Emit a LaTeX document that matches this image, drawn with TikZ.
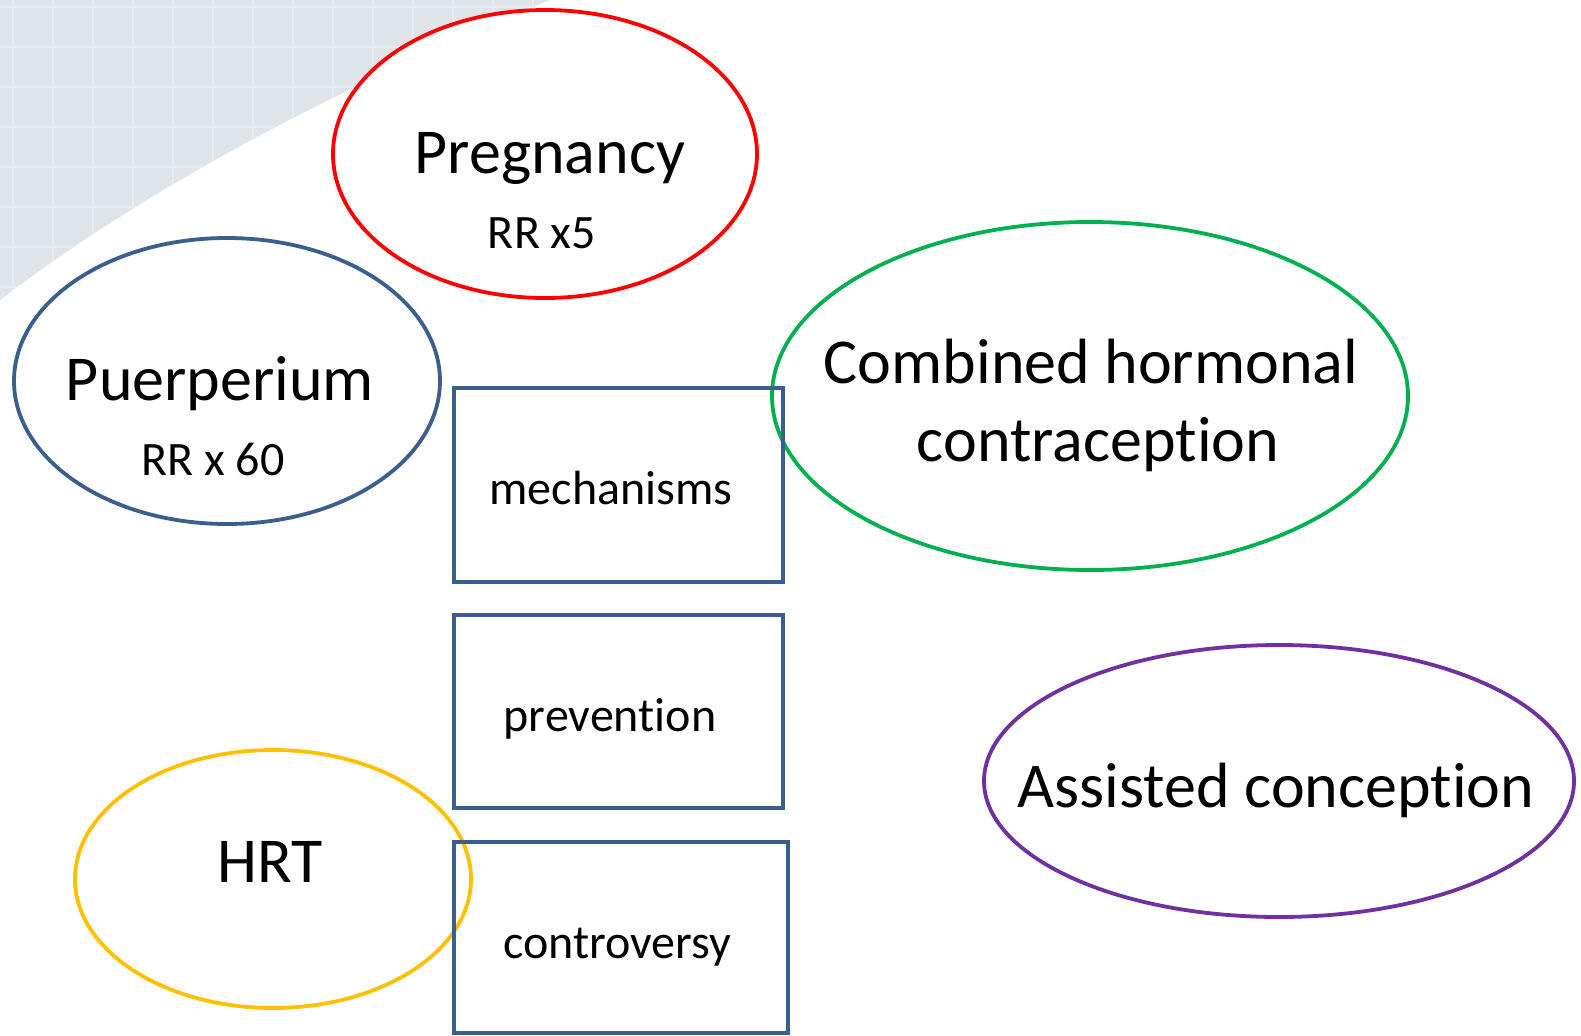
\documentclass[tikz,border=0pt]{standalone}
\usepackage{fontspec}
\setmainfont{Carlito}[Ligatures={NoCommon,NoRare}]
\usetikzlibrary{shapes.geometric}
\definecolor{bgray}{HTML}{DEE4E8}
\definecolor{gline}{HTML}{E7ECEF}
\definecolor{cred}{HTML}{FF0000}
\definecolor{cblue}{HTML}{3A5F8E}
\definecolor{cgreen}{HTML}{00B050}
\definecolor{cpurple}{HTML}{7030A0}
\definecolor{cyellow}{HTML}{FFC000}
\newcommand{\nolig}{\kern0pt }
\tikzset{
  oval/.style={ellipse, draw, fill=white, line width=1.9pt, inner sep=0pt},
  topicbox/.style={rectangle, draw=cblue, line width=2pt, inner sep=0pt},
  bigtxt/.style={anchor=base, font=\fontsize{32}{38}\selectfont, inner sep=0pt},
  smalltxt/.style={anchor=base, font=\fontsize{24}{29}\selectfont, inner sep=0pt}
}
\begin{document}
\begin{tikzpicture}[x=0.5pt,y=-0.5pt]
\useasboundingbox (0,0) rectangle (1581,1035);
\fill[white] (0,0) rectangle (1581,1035);
% background corner
\begin{scope}
\clip (0,0) -- (0,300) .. controls (170,170) and (380,70) .. (550,0) -- cycle;
\fill[bgray] (0,0) rectangle (560,310);
\foreach \k in {13,53,...,573} {\draw[gline, line width=1.2pt] (\k,0) -- (\k,310);}
\foreach \k in {7,47,...,327} {\draw[gline, line width=1.2pt] (0,\k) -- (560,\k);}
\end{scope}
% ellipses
\node[oval, draw=cred, minimum width=212pt, minimum height=144pt] (preg) at (545,154) {};
\node[oval, draw=cblue, minimum width=213pt, minimum height=143pt] (puer) at (227,381) {};
\node[oval, draw=cgreen, minimum width=318pt, minimum height=174pt] (chc) at (1090,396) {};
\node[oval, draw=cpurple, minimum width=295pt, minimum height=136pt] (ac) at (1279,781) {};
\node[oval, draw=cyellow, minimum width=198pt, minimum height=129pt] (hrt) at (273,879) {};
% boxes
\node[topicbox, minimum width=164.5pt, minimum height=97pt] (mech) at (618.5,485) {};
\node[topicbox, minimum width=164.5pt, minimum height=96.5pt] (prev) at (618.5,711.5) {};
\node[topicbox, minimum width=167pt, minimum height=95.5pt] (contr) at (621,937.5) {};
% texts
\node[bigtxt] (tpreg) at (550,173) {Pregnancy};
\node[smalltxt] (tpregrr) at (542,248) {RR x5};
\node[bigtxt] (tpuer) at (220,400) {Puerperium};
\node[smalltxt] (tpuerrr) at (213,475) {RR x 60};
\node[bigtxt] (tchc1) at (1091,383) {Combined hormonal};
\node[bigtxt] (tchc2) at (1098,461) {contracept\nolig ion};
\node[bigtxt] (tac) at (1276,807) {Assisted concept\nolig ion};
\node[bigtxt] (thrt) at (270,882) {HRT};
\node[smalltxt] (tmech) at (611,504) {mechanisms};
\node[smalltxt] (tprev) at (610,731) {prevent\nolig ion};
\node[smalltxt] (tcontr) at (617,958) {controversy};
\end{tikzpicture}
\end{document}
